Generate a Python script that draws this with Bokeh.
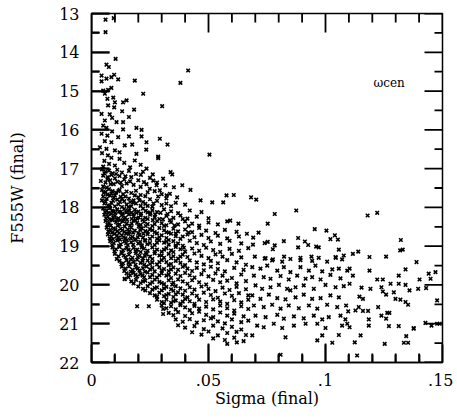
from bokeh.plotting import figure
from bokeh.models import Range1d, FixedTicker, ColumnDataSource, Label
from bokeh.embed import file_html
from bokeh.resources import INLINE

# ---- data: (sigma, F555W) ----
bright_pts = [
    (0.0060, 13.16), (0.0095, 13.12), (0.0060, 13.48), (0.0103, 14.17), (0.0064, 14.32), (0.0074, 14.38),
    (0.0043, 14.60), (0.0064, 14.68), (0.0043, 14.75), (0.0085, 14.64), (0.0097, 14.58), (0.0114, 14.70),
    (0.0185, 14.73), (0.0050, 14.99), (0.0071, 14.97), (0.0085, 14.92), (0.0057, 15.07), (0.0068, 15.20),
    (0.0093, 15.17), (0.0100, 15.29), (0.0135, 15.29), (0.0221, 15.07), (0.0150, 15.24), (0.0071, 15.37),
    (0.0097, 15.42), (0.0131, 15.52), (0.0182, 15.48), (0.0302, 15.39), (0.0043, 15.59), (0.0078, 15.60),
    (0.0088, 15.69), (0.0160, 15.67), (0.0057, 15.76), (0.0107, 15.80), (0.0135, 15.80), (0.0050, 15.89),
    (0.0064, 15.95), (0.0192, 15.95), (0.0214, 16.00), (0.0088, 16.04), (0.0135, 15.99), (0.0043, 16.10),
    (0.0068, 16.15), (0.0114, 16.19), (0.0160, 16.17), (0.0214, 16.17), (0.0292, 16.23), (0.0325, 16.38),
    (0.0057, 16.29), (0.0085, 16.32), (0.0142, 16.40), (0.0174, 16.38), (0.0235, 16.32), (0.0036, 16.45),
    (0.0064, 16.49), (0.0100, 16.53), (0.0192, 16.62), (0.0285, 16.69), (0.0413, 14.47), (0.0380, 14.79),
    (0.0504, 16.64), (0.0234, 16.51), (0.0045, 16.60), (0.0070, 16.66), (0.0085, 16.72), (0.0055, 16.80),
    (0.0120, 16.75), (0.0075, 16.88), (0.0100, 16.92), (0.0140, 16.85), (0.0050, 16.95), (0.0165, 16.97),
    (0.0210, 16.90), (0.0120, 16.58), (0.0185, 16.79), (0.0235, 17.00), (0.0285, 16.73),
]

upper_edge_pts = [
    (0.0211, 17.16), (0.0264, 17.31), (0.0306, 17.26), (0.0249, 17.52), (0.0292, 17.56), (0.0321, 17.69),
    (0.0338, 17.09), (0.0345, 17.15), (0.0262, 17.15), (0.0224, 17.35), (0.0278, 17.43), (0.0316, 17.43),
    (0.0352, 17.48), (0.0388, 17.43), (0.0423, 17.55), (0.0466, 17.82), (0.0516, 17.87), (0.0563, 17.87),
    (0.0577, 17.69), (0.0335, 17.65), (0.0366, 17.74), (0.0608, 17.68), (0.0682, 17.74), (0.0704, 17.80),
    (0.0783, 18.17), (0.0875, 18.08), (0.0753, 18.42), (0.0593, 18.34), (0.0628, 18.42), (0.0664, 18.68),
]

core_17_18 = [
    (0.0045, 17.02), (0.0060, 17.08), (0.0075, 17.05), (0.0090, 17.12), (0.0110, 17.03), (0.0130, 17.10),
    (0.0160, 17.06), (0.0190, 17.14), (0.0220, 17.08), (0.0050, 17.18), (0.0070, 17.22), (0.0085, 17.16),
    (0.0100, 17.25), (0.0120, 17.19), (0.0140, 17.28), (0.0170, 17.22), (0.0200, 17.30), (0.0250, 17.24),
    (0.0040, 17.32), (0.0060, 17.36), (0.0080, 17.30), (0.0095, 17.40), (0.0110, 17.34), (0.0130, 17.45),
    (0.0150, 17.38), (0.0180, 17.42), (0.0210, 17.47), (0.0280, 17.36), (0.0050, 17.46), (0.0065, 17.49),
    (0.0045, 17.55), (0.0060, 17.60), (0.0075, 17.53), (0.0090, 17.58), (0.0105, 17.62), (0.0120, 17.55),
    (0.0135, 17.66), (0.0150, 17.59), (0.0170, 17.63), (0.0190, 17.57), (0.0210, 17.68), (0.0240, 17.61),
    (0.0270, 17.58), (0.0300, 17.66), (0.0050, 17.72), (0.0065, 17.78), (0.0080, 17.70), (0.0095, 17.75),
    (0.0110, 17.80), (0.0125, 17.73), (0.0140, 17.84), (0.0160, 17.77), (0.0180, 17.82), (0.0200, 17.74),
    (0.0220, 17.86), (0.0250, 17.79), (0.0280, 17.83), (0.0320, 17.77), (0.0360, 17.88), (0.0055, 17.90),
    (0.0070, 17.95), (0.0085, 17.88), (0.0100, 17.97), (0.0115, 17.92), (0.0130, 17.99), (0.0150, 17.93),
    (0.0170, 17.97), (0.0190, 17.90), (0.0210, 17.96), (0.0230, 17.91), (0.0260, 17.98), (0.0300, 17.94),
    (0.0340, 17.97), (0.0400, 17.93),
    (0.0055, 17.12), (0.0068, 17.27), (0.0082, 17.40), (0.0105, 17.14), (0.0125, 17.36), (0.0145, 17.20),
    (0.0165, 17.33), (0.0235, 17.40), (0.0052, 17.63), (0.0068, 17.67), (0.0085, 17.64), (0.0100, 17.69),
    (0.0115, 17.58), (0.0130, 17.78), (0.0145, 17.72), (0.0165, 17.86), (0.0185, 17.69), (0.0205, 17.82),
    (0.0230, 17.71), (0.0265, 17.90), (0.0045, 17.82), (0.0060, 17.85), (0.0078, 17.96), (0.0092, 17.83),
    (0.0122, 17.86), (0.0158, 17.99), (0.0178, 17.88), (0.0240, 17.96), (0.0285, 17.72), (0.0320, 17.90),
]

core_18_19 = [
    (0.0050, 18.03), (0.0065, 18.08), (0.0080, 18.02), (0.0095, 18.10), (0.0110, 18.05), (0.0125, 18.12),
    (0.0140, 18.04), (0.0155, 18.09), (0.0170, 18.14), (0.0185, 18.06), (0.0200, 18.11), (0.0220, 18.03),
    (0.0240, 18.13), (0.0260, 18.07), (0.0280, 18.12), (0.0310, 18.05), (0.0340, 18.10), (0.0370, 18.15),
    (0.0420, 18.08), (0.0470, 18.12), (0.0055, 18.19), (0.0070, 18.24), (0.0085, 18.17), (0.0100, 18.22),
    (0.0115, 18.28), (0.0130, 18.20), (0.0145, 18.26), (0.0160, 18.18), (0.0180, 18.23), (0.0195, 18.29),
    (0.0210, 18.21), (0.0230, 18.27), (0.0250, 18.19), (0.0270, 18.25), (0.0290, 18.30), (0.0320, 18.22),
    (0.0350, 18.27), (0.0380, 18.21), (0.0410, 18.29), (0.0450, 18.24), (0.0500, 18.28), (0.0060, 18.35),
    (0.0075, 18.40), (0.0090, 18.33), (0.0105, 18.38), (0.0120, 18.44), (0.0135, 18.36), (0.0150, 18.42),
    (0.0165, 18.47), (0.0180, 18.34), (0.0195, 18.40), (0.0210, 18.45), (0.0225, 18.37), (0.0240, 18.43),
    (0.0260, 18.48), (0.0280, 18.35), (0.0300, 18.41), (0.0320, 18.46), (0.0340, 18.38), (0.0370, 18.44),
    (0.0400, 18.36), (0.0430, 18.42), (0.0460, 18.47), (0.0500, 18.39), (0.0540, 18.44), (0.0580, 18.36),
    (0.0065, 18.52), (0.0080, 18.58), (0.0095, 18.54), (0.0110, 18.61), (0.0125, 18.55), (0.0140, 18.63),
    (0.0155, 18.57), (0.0170, 18.52), (0.0185, 18.60), (0.0200, 18.66), (0.0215, 18.54), (0.0230, 18.61),
    (0.0250, 18.56), (0.0270, 18.64), (0.0290, 18.53), (0.0310, 18.59), (0.0330, 18.65), (0.0350, 18.55),
    (0.0370, 18.62), (0.0400, 18.57), (0.0430, 18.64), (0.0460, 18.53), (0.0490, 18.60), (0.0530, 18.66),
    (0.0570, 18.58), (0.0620, 18.63), (0.0070, 18.70), (0.0085, 18.75), (0.0100, 18.68), (0.0115, 18.78),
    (0.0130, 18.72), (0.0145, 18.80), (0.0160, 18.69), (0.0175, 18.76), (0.0190, 18.82), (0.0205, 18.71),
    (0.0220, 18.78), (0.0240, 18.69), (0.0260, 18.75), (0.0280, 18.81), (0.0300, 18.72), (0.0320, 18.79),
    (0.0340, 18.68), (0.0360, 18.74), (0.0380, 18.81), (0.0410, 18.70), (0.0440, 18.77), (0.0470, 18.71),
    (0.0500, 18.79), (0.0540, 18.73), (0.0580, 18.80), (0.0630, 18.75), (0.0080, 18.87), (0.0095, 18.92),
    (0.0110, 18.85), (0.0125, 18.95), (0.0140, 18.88), (0.0155, 18.97), (0.0170, 18.90), (0.0185, 18.84),
    (0.0200, 18.93), (0.0215, 18.98), (0.0230, 18.86), (0.0250, 18.92), (0.0270, 18.97), (0.0290, 18.85),
    (0.0310, 18.91), (0.0330, 18.96), (0.0350, 18.87), (0.0370, 18.93), (0.0390, 18.99), (0.0420, 18.86),
    (0.0450, 18.92), (0.0480, 18.97), (0.0510, 18.88), (0.0550, 18.94), (0.0590, 18.86), (0.0640, 18.93),
    (0.0058, 18.12), (0.0072, 18.15), (0.0088, 18.09), (0.0102, 18.14), (0.0118, 18.11), (0.0133, 18.16),
    (0.0148, 18.13), (0.0162, 18.08), (0.0178, 18.17), (0.0192, 18.14), (0.0212, 18.16), (0.0232, 18.09),
    (0.0252, 18.15), (0.0272, 18.18), (0.0295, 18.14), (0.0325, 18.17), (0.0062, 18.28), (0.0078, 18.31),
    (0.0093, 18.26), (0.0108, 18.31), (0.0122, 18.33), (0.0138, 18.29), (0.0152, 18.32), (0.0172, 18.30),
    (0.0188, 18.33), (0.0202, 18.26), (0.0218, 18.32), (0.0240, 18.30), (0.0262, 18.33), (0.0305, 18.31),
    (0.0335, 18.33), (0.0390, 18.30), (0.0068, 18.45), (0.0082, 18.47), (0.0112, 18.47), (0.0142, 18.49),
    (0.0172, 18.42), (0.0202, 18.49), (0.0232, 18.48), (0.0270, 18.43), (0.0310, 18.48), (0.0355, 18.47),
    (0.0415, 18.48), (0.0072, 18.62), (0.0088, 18.65), (0.0102, 18.57), (0.0118, 18.66), (0.0132, 18.59),
    (0.0148, 18.67), (0.0162, 18.62), (0.0178, 18.65), (0.0208, 18.58), (0.0222, 18.68), (0.0240, 18.63),
    (0.0260, 18.59), (0.0280, 18.67), (0.0320, 18.64), (0.0360, 18.67), (0.0415, 18.65), (0.0078, 18.80),
    (0.0092, 18.82), (0.0108, 18.74), (0.0122, 18.83), (0.0138, 18.77), (0.0152, 18.84), (0.0168, 18.80),
    (0.0198, 18.77), (0.0228, 18.84), (0.0250, 18.81), (0.0290, 18.77), (0.0330, 18.84), (0.0390, 18.75),
    (0.0088, 18.97), (0.0118, 18.99), (0.0148, 18.92), (0.0178, 18.96), (0.0208, 18.89), (0.0238, 18.95),
    (0.0280, 18.91), (0.0320, 18.88), (0.0360, 18.98),
]

core_19_20 = [
    (0.0090, 19.03), (0.0105, 19.08), (0.0120, 19.02), (0.0135, 19.10), (0.0150, 19.05), (0.0165, 19.13),
    (0.0180, 19.04), (0.0195, 19.09), (0.0210, 19.15), (0.0225, 19.06), (0.0240, 19.12), (0.0260, 19.03),
    (0.0280, 19.09), (0.0300, 19.14), (0.0320, 19.05), (0.0340, 19.11), (0.0360, 19.02), (0.0380, 19.08),
    (0.0400, 19.14), (0.0430, 19.06), (0.0460, 19.12), (0.0490, 19.04), (0.0520, 19.10), (0.0550, 19.15),
    (0.0590, 19.07), (0.0630, 19.12), (0.0670, 19.05), (0.0100, 19.20), (0.0115, 19.26), (0.0130, 19.19),
    (0.0145, 19.28), (0.0160, 19.22), (0.0175, 19.30), (0.0190, 19.18), (0.0205, 19.25), (0.0220, 19.31),
    (0.0235, 19.21), (0.0250, 19.27), (0.0270, 19.19), (0.0290, 19.24), (0.0310, 19.30), (0.0330, 19.20),
    (0.0350, 19.26), (0.0370, 19.32), (0.0390, 19.22), (0.0410, 19.28), (0.0440, 19.19), (0.0470, 19.25),
    (0.0500, 19.31), (0.0530, 19.21), (0.0560, 19.27), (0.0600, 19.20), (0.0640, 19.29), (0.0120, 19.38),
    (0.0135, 19.44), (0.0150, 19.36), (0.0165, 19.46), (0.0180, 19.40), (0.0195, 19.35), (0.0210, 19.43),
    (0.0225, 19.48), (0.0240, 19.37), (0.0260, 19.42), (0.0280, 19.47), (0.0300, 19.36), (0.0320, 19.41),
    (0.0340, 19.46), (0.0360, 19.38), (0.0380, 19.43), (0.0400, 19.49), (0.0420, 19.37), (0.0450, 19.42),
    (0.0480, 19.47), (0.0510, 19.38), (0.0540, 19.44), (0.0580, 19.36), (0.0620, 19.42), (0.0660, 19.48),
    (0.0130, 19.53), (0.0145, 19.58), (0.0160, 19.52), (0.0175, 19.61), (0.0190, 19.55), (0.0205, 19.63),
    (0.0220, 19.57), (0.0235, 19.52), (0.0250, 19.60), (0.0270, 19.65), (0.0290, 19.54), (0.0310, 19.59),
    (0.0330, 19.64), (0.0350, 19.55), (0.0370, 19.61), (0.0390, 19.53), (0.0410, 19.58), (0.0430, 19.64),
    (0.0450, 19.56), (0.0480, 19.62), (0.0510, 19.53), (0.0540, 19.59), (0.0570, 19.65), (0.0610, 19.56),
    (0.0650, 19.61), (0.0150, 19.70), (0.0165, 19.75), (0.0180, 19.69), (0.0195, 19.78), (0.0210, 19.72),
    (0.0225, 19.80), (0.0240, 19.68), (0.0260, 19.74), (0.0280, 19.81), (0.0300, 19.70), (0.0320, 19.76),
    (0.0340, 19.82), (0.0360, 19.71), (0.0380, 19.77), (0.0400, 19.69), (0.0420, 19.75), (0.0440, 19.81),
    (0.0470, 19.72), (0.0500, 19.78), (0.0530, 19.70), (0.0560, 19.76), (0.0600, 19.82), (0.0640, 19.73),
    (0.0142, 19.85), (0.0170, 19.91), (0.0190, 19.87), (0.0210, 19.95), (0.0230, 19.89), (0.0250, 19.97),
    (0.0270, 19.86), (0.0290, 19.92), (0.0310, 19.98), (0.0330, 19.88), (0.0350, 19.94), (0.0370, 19.86),
    (0.0390, 19.91), (0.0410, 19.97), (0.0430, 19.88), (0.0460, 19.93), (0.0490, 19.99), (0.0520, 19.87),
    (0.0550, 19.93), (0.0580, 19.89), (0.0620, 19.96), (0.0660, 19.90),
    (0.0098, 19.13), (0.0128, 19.15), (0.0158, 19.09), (0.0188, 19.13), (0.0215, 19.03), (0.0232, 19.17),
    (0.0270, 19.14), (0.0310, 19.09), (0.0350, 19.15), (0.0395, 19.04), (0.0108, 19.33), (0.0138, 19.24),
    (0.0168, 19.34), (0.0198, 19.28), (0.0228, 19.25), (0.0260, 19.33), (0.0300, 19.24), (0.0340, 19.31),
    (0.0380, 19.27), (0.0128, 19.47), (0.0158, 19.43), (0.0188, 19.48), (0.0218, 19.38), (0.0250, 19.46),
    (0.0290, 19.41), (0.0330, 19.49), (0.0140, 19.64), (0.0168, 19.66), (0.0198, 19.58), (0.0228, 19.66),
    (0.0260, 19.56), (0.0300, 19.63), (0.0340, 19.60), (0.0158, 19.80), (0.0188, 19.74), (0.0218, 19.76),
    (0.0250, 19.80), (0.0290, 19.75), (0.0330, 19.73), (0.0180, 19.96), (0.0220, 19.91), (0.0260, 19.93),
    (0.0300, 19.95), (0.0345, 19.99),
]

core_20_22 = [
    (0.0200, 20.04), (0.0220, 20.10), (0.0240, 20.03), (0.0260, 20.12), (0.0280, 20.06), (0.0300, 20.14),
    (0.0320, 20.05), (0.0340, 20.11), (0.0360, 20.03), (0.0380, 20.09), (0.0400, 20.15), (0.0420, 20.06),
    (0.0440, 20.12), (0.0470, 20.04), (0.0500, 20.10), (0.0530, 20.16), (0.0560, 20.07), (0.0590, 20.13),
    (0.0620, 20.05), (0.0660, 20.11), (0.0250, 20.21), (0.0270, 20.27), (0.0290, 20.20), (0.0310, 20.29),
    (0.0330, 20.23), (0.0350, 20.31), (0.0370, 20.19), (0.0390, 20.25), (0.0410, 20.32), (0.0430, 20.22),
    (0.0450, 20.28), (0.0480, 20.20), (0.0510, 20.26), (0.0540, 20.33), (0.0570, 20.22), (0.0600, 20.28),
    (0.0630, 20.21), (0.0670, 20.27), (0.0280, 20.38), (0.0300, 20.44), (0.0320, 20.37), (0.0340, 20.46),
    (0.0360, 20.40), (0.0380, 20.48), (0.0400, 20.36), (0.0420, 20.42), (0.0440, 20.49), (0.0460, 20.38),
    (0.0490, 20.44), (0.0520, 20.37), (0.0550, 20.43), (0.0580, 20.49), (0.0610, 20.39), (0.0640, 20.45),
    (0.0670, 20.38), (0.0300, 20.53), (0.0320, 20.60), (0.0340, 20.55), (0.0360, 20.63), (0.0380, 20.52),
    (0.0400, 20.58), (0.0420, 20.65), (0.0440, 20.54), (0.0460, 20.61), (0.0490, 20.56), (0.0520, 20.63),
    (0.0550, 20.53), (0.0580, 20.60), (0.0610, 20.66), (0.0640, 20.55), (0.0670, 20.62), (0.0330, 20.72),
    (0.0350, 20.78), (0.0370, 20.70), (0.0400, 20.80), (0.0430, 20.73), (0.0460, 20.69), (0.0490, 20.77),
    (0.0520, 20.83), (0.0550, 20.71), (0.0580, 20.79), (0.0610, 20.74), (0.0650, 20.81), (0.0360, 20.89),
    (0.0390, 20.95), (0.0420, 20.88), (0.0450, 20.97), (0.0480, 20.91), (0.0510, 20.86), (0.0540, 20.94),
    (0.0570, 20.99), (0.0600, 20.89), (0.0640, 20.96), (0.0670, 20.92), (0.0370, 21.04), (0.0400, 21.10),
    (0.0440, 21.06), (0.0480, 21.14), (0.0520, 21.05), (0.0560, 21.12), (0.0600, 21.08), (0.0640, 21.15),
    (0.0430, 21.22), (0.0470, 21.28), (0.0500, 21.20), (0.0540, 21.30), (0.0580, 21.24), (0.0620, 21.21),
    (0.0660, 21.29), (0.0520, 21.38), (0.0570, 21.42), (0.0610, 21.36), (0.0650, 21.45), (0.0580, 21.52),
    (0.0621, 21.48), (0.0142, 19.84), (0.0195, 20.55), (0.0245, 20.55), (0.0306, 20.62), (0.0306, 20.75),
    (0.0230, 20.14), (0.0270, 20.08), (0.0310, 20.09), (0.0350, 20.15), (0.0280, 20.30), (0.0320, 20.26),
    (0.0360, 20.24), (0.0310, 20.47), (0.0350, 20.42), (0.0390, 20.43),
]

right_pts = [
    (0.0714, 18.65), (0.0691, 18.78), (0.0690, 18.96), (0.0740, 18.92), (0.0753, 18.89), (0.0783, 18.98),
    (0.0775, 19.08), (0.0822, 18.87), (0.0883, 18.79), (0.0912, 18.88), (0.0926, 18.97), (0.0883, 19.03),
    (0.0960, 19.01), (0.0971, 19.03), (0.1057, 19.09), (0.1078, 19.24), (0.0698, 19.27), (0.0740, 19.32),
    (0.0775, 19.34), (0.0823, 19.27), (0.0893, 19.30), (0.0940, 19.27), (0.0971, 19.30), (0.1044, 19.30),
    (0.0954, 18.56), (0.1004, 18.60), (0.1021, 18.82), (0.1040, 18.72), (0.1053, 18.83),
    (0.1180, 18.21), (0.1221, 18.14), (0.1322, 18.84), (0.1330, 19.09), (0.1117, 19.20), (0.1140, 19.14),
    (0.1188, 19.28), (0.1259, 19.27), (0.1319, 19.11),
    (0.1389, 19.41), (0.1103, 19.58), (0.1117, 19.76), (0.1188, 19.63), (0.1342, 19.60), (0.1441, 19.71),
    (0.1449, 19.84), (0.1313, 19.76), (0.1402, 19.86), (0.1221, 19.86), (0.1245, 19.86), (0.1278, 19.97),
    (0.1313, 19.97), (0.1342, 20.00), (0.1103, 19.97), (0.1239, 20.06), (0.1154, 20.07), (0.1192, 20.10),
    (0.1359, 20.14), (0.1396, 20.10), (0.1430, 20.08), (0.1245, 20.17), (0.1292, 20.19), (0.1145, 20.30),
    (0.1160, 20.36), (0.1259, 20.25), (0.1299, 20.36), (0.1320, 20.38), (0.1342, 20.44), (0.1353, 20.51),
    (0.1088, 20.53), (0.1142, 20.57), (0.1225, 20.57), (0.1097, 20.68), (0.1128, 20.66), (0.1160, 20.67),
    (0.1182, 20.67), (0.1264, 20.72), (0.1273, 20.72), (0.1239, 20.79), (0.1259, 20.87), (0.1185, 20.89),
    (0.1185, 21.05), (0.1271, 21.06), (0.1313, 21.06), (0.1377, 21.11), (0.1427, 20.98), (0.1453, 21.05),
    (0.1477, 21.00), (0.1093, 21.00), (0.1103, 21.09), (0.1125, 21.48), (0.1150, 21.30), (0.1253, 21.52),
    (0.1335, 21.49), (0.1353, 21.49), (0.1345, 21.32), (0.1135, 21.82), (0.1470, 19.67), (0.1477, 20.40),
    (0.1488, 21.00), (0.1377, 21.13),
    (0.0744, 19.31), (0.0772, 19.37), (0.0815, 19.40), (0.0850, 19.33), (0.0893, 19.36), (0.0943, 19.38),
    (0.1007, 19.40), (0.1043, 19.28), (0.1071, 19.34),
    (0.0687, 19.54), (0.0722, 19.58), (0.0751, 19.50), (0.0794, 19.63), (0.0822, 19.54), (0.0850, 19.67),
    (0.0893, 19.54), (0.0929, 19.63), (0.0957, 19.50), (0.0986, 19.65), (0.1029, 19.60), (0.1057, 19.58),
    (0.1093, 19.63),
    (0.0694, 19.76), (0.0736, 19.80), (0.0765, 19.84), (0.0808, 19.77), (0.0843, 19.86), (0.0879, 19.76),
    (0.0915, 19.84), (0.0943, 19.80), (0.0979, 19.86), (0.1021, 19.74), (0.1064, 19.83),
    (0.0701, 20.01), (0.0729, 20.10), (0.0765, 20.06), (0.0801, 20.00), (0.0836, 20.10), (0.0850, 20.14),
    (0.0872, 20.06), (0.0907, 20.01), (0.0950, 20.10), (0.1000, 20.00), (0.1043, 20.06), (0.1078, 20.03),
    (0.0687, 20.27), (0.0722, 20.36), (0.0758, 20.25), (0.0794, 20.34), (0.0829, 20.37), (0.0872, 20.32),
    (0.0907, 20.25), (0.0943, 20.36), (0.0979, 20.34), (0.1021, 20.27), (0.1057, 20.32),
    (0.0694, 20.53), (0.0736, 20.57), (0.0772, 20.51), (0.0808, 20.61), (0.0843, 20.53), (0.0886, 20.60),
    (0.0929, 20.53), (0.0965, 20.61), (0.1007, 20.51), (0.1050, 20.57),
    (0.0701, 20.79), (0.0744, 20.83), (0.0794, 20.77), (0.0822, 20.87), (0.0865, 20.81), (0.0907, 20.86),
    (0.0950, 20.79), (0.0986, 20.89), (0.1014, 20.83), (0.1064, 20.79), (0.1085, 20.89),
    (0.0708, 21.05), (0.0736, 21.09), (0.0779, 21.00), (0.0815, 21.11), (0.0865, 21.05), (0.0915, 21.00),
    (0.0965, 21.00), (0.1000, 21.11), (0.1071, 21.05),
    (0.0687, 21.30), (0.0829, 21.35), (0.0965, 21.43), (0.0986, 21.30), (0.1029, 21.49), (0.1057, 21.29),
    (0.0808, 21.80),
]

x_ticks = [0.0, 0.05, 0.1, 0.15]
x_tick_labels = ["0", ".05", ".1", ".15"]
x_minor = [0.01, 0.02, 0.03, 0.04, 0.06, 0.07, 0.08, 0.09, 0.11, 0.12, 0.13, 0.14]
y_ticks = [13, 14, 15, 16, 17, 18, 19, 20, 21, 22]
y_minor = [13.5, 14.5, 15.5, 16.5, 17.5, 18.5, 19.5, 20.5, 21.5]
x_lo, x_hi = 0.0, 0.15
y_lo, y_hi = 22, 13

all_pts = bright_pts + upper_edge_pts + core_17_18 + core_18_19 + core_19_20 + core_20_22 + right_pts
sigma = [p_[0] for p_ in all_pts]
mag = [p_[1] for p_ in all_pts]

FONT = "DejaVu Serif"
FW, FH = 351, 349

p = figure(frame_width=FW, frame_height=FH, output_backend="svg", toolbar_location=None,
           x_range=Range1d(x_lo, x_hi), y_range=Range1d(y_lo, y_hi),
           min_border_left=91, min_border_right=11, min_border_top=13, min_border_bottom=50)
p.grid.visible = False
p.outline_line_color = "black"
p.outline_line_width = 1.5

# inward tick marks on all four sides (drawn first), lengths given in screen pixels
px_x = (x_hi - x_lo) / FW
px_y = (y_lo - y_hi) / FH
dmaj_x, dmin_x = 18 * px_x, 8 * px_x
dmaj_y, dmin_y = 19 * px_y, 9 * px_y

ny, nym = len(y_ticks), len(y_minor)
nx, nxm = len(x_ticks), len(x_minor)
p.segment(x0=[x_lo] * ny + [x_hi] * ny, y0=y_ticks + y_ticks,
          x1=[x_lo + dmaj_x] * ny + [x_hi - dmaj_x] * ny, y1=y_ticks + y_ticks,
          line_color="black", line_width=1.8)
p.segment(x0=[x_lo] * nym + [x_hi] * nym, y0=y_minor + y_minor,
          x1=[x_lo + dmin_x] * nym + [x_hi - dmin_x] * nym, y1=y_minor + y_minor,
          line_color="black", line_width=1.8)
p.segment(x0=x_ticks + x_ticks, y0=[y_lo] * nx + [y_hi] * nx,
          x1=x_ticks + x_ticks, y1=[y_lo - dmaj_y] * nx + [y_hi + dmaj_y] * nx,
          line_color="black", line_width=1.8)
p.segment(x0=x_minor + x_minor, y0=[y_lo] * nxm + [y_hi] * nxm,
          x1=x_minor + x_minor, y1=[y_lo - dmin_y] * nxm + [y_hi + dmin_y] * nxm,
          line_color="black", line_width=1.8)

src = ColumnDataSource(dict(x=sigma, y=mag))
p.scatter("x", "y", source=src, marker="x", size=5, line_color="black", line_width=1.6)

xt = FixedTicker(ticks=x_ticks, minor_ticks=x_minor)
yt = FixedTicker(ticks=y_ticks, minor_ticks=y_minor)
overrides = {t: s for t, s in zip(x_ticks, x_tick_labels)}


def style(ax):
    ax.axis_line_color = "black"
    ax.axis_line_width = 1.5
    ax.major_tick_in = 18
    ax.major_tick_out = 0
    ax.minor_tick_in = 8
    ax.minor_tick_out = 0
    ax.major_tick_line_color = "black"
    ax.minor_tick_line_color = "black"
    ax.major_tick_line_width = 1.8
    ax.minor_tick_line_width = 1.8
    ax.major_label_text_font = FONT
    ax.major_label_text_font_size = "16px"
    ax.major_label_text_color = "black"
    ax.axis_label_text_font = FONT
    ax.axis_label_text_font_size = "16px"
    ax.axis_label_text_font_style = "normal"
    ax.axis_label_text_color = "black"


xa = p.xaxis[0]
xa.ticker = xt
xa.major_label_overrides = overrides
xa.axis_label = "Sigma (final)"
style(xa)
xa.major_label_standoff = 11
xa.axis_label_standoff = 0

ya = p.yaxis[0]
ya.ticker = yt
ya.axis_label = "F555W (final)"
style(ya)
ya.major_label_standoff = 12
ya.axis_label_standoff = 29

p.add_layout(Label(x=0.1205, y=14.8, text="ωcen", text_font=FONT, text_font_size="12px",
                   text_baseline="middle", text_color="black"))

open("out.html", "w").write(file_html(p, INLINE))
